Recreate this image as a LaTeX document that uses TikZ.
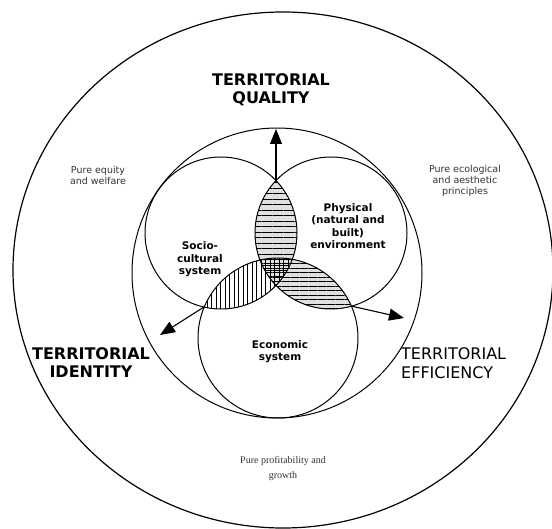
\documentclass[tikz,border=0pt]{standalone}
\usepackage{fontspec}
\setmainfont{DejaVu Sans}
\newfontfamily\noteserif{Liberation Serif}
\usetikzlibrary{patterns.meta,arrows.meta}
\begin{document}
\begin{tikzpicture}[x=1pt,y=-1pt,
  ring/.style={draw=black,line width=1pt},
  outerring/.style={draw=black,line width=1.2pt},
  flow/.style={draw=black,line width=1.1pt,-{Triangle[length=15pt,width=12pt]}},
  heading/.style={font=\fontsize{16}{18}\selectfont\bfseries,align=center,inner sep=0pt},
  plainhead/.style={font=\fontsize{16}{19}\selectfont,align=left,inner sep=0pt},
  sysname/.style={font=\fontsize{10.5}{12.5}\selectfont\bfseries,align=center,inner sep=0pt},
  note/.style={font=\fontsize{9.5}{11}\selectfont,text=black!80,align=center,inner sep=0pt},
  serifnote/.style={font=\noteserif\fontsize{10}{15}\selectfont,text=black!80,align=center,inner sep=0pt},
  shade/.style={fill=black!12},
  hlines/.style={pattern={Lines[angle=0,distance=5.5pt,line width=0.7pt]}},
  vlines/.style={pattern={Lines[angle=90,distance=4.5pt,line width=0.7pt]}},
  hlinesdense/.style={pattern={Lines[angle=0,distance=4.5pt,line width=0.7pt]}}
]
\useasboundingbox (0,0) rectangle (552,529);
\fill[white] (0,0) rectangle (552,529);

% centres of the rings and of the three systems
\coordinate (cO) at (283,270);
\coordinate (cM) at (277,273);
\coordinate (cS) at (221,233);
\coordinate (cP) at (331,233);
\coordinate (cE) at (278,338);

% crossing points of the system circles, and the arrow tips
\coordinate (spTop) at (276,180.6);
\coordinate (seOut) at (204,307);
\coordinate (peOut) at (351,306);
\coordinate (qTip) at (276,129);
\coordinate (iTip) at (160,335);
\coordinate (eTip) at (404,318);

% grey ground of two overlaps
\begin{scope}
  \clip (cS) circle[radius=76pt];
  \path[shade] (cP) circle[radius=76pt];
\end{scope}
\begin{scope}
  \clip (cP) circle[radius=76pt];
  \path[shade] (cE) circle[radius=80pt];
\end{scope}

% hatching of the overlaps
\begin{scope}
  \clip (cS) circle[radius=76pt];
  \path[hlines] (cP) circle[radius=76pt];
\end{scope}
\begin{scope}
  \clip (cS) circle[radius=76pt];
  \path[vlines] (cE) circle[radius=80pt];
\end{scope}
\begin{scope}
  \clip (cP) circle[radius=76pt];
  \path[hlinesdense] (cE) circle[radius=80pt];
\end{scope}

% rings
\draw[outerring] (cO) ellipse[x radius=270pt,y radius=258pt];
\draw[ring] (cM) circle[radius=145pt];
\draw[ring] (cS) circle[radius=76pt];
\draw[ring] (cP) circle[radius=76pt];
\draw[ring] (cE) circle[radius=80pt];

% headings
\node[heading] (quality) at (271,90) {TERRITORIAL\\QUALITY};
\node[heading] (identity) at (91,362.5) {TERRITORIAL\\IDENTITY};
\node[plainhead,anchor=west] (efficiency) at (401,363.5) {TERRITORIAL\\EFFICIENCY};

% principles in the outer ring
\node[note] (equity) at (98,175.5) {Pure equity\\and welfare};
\node[note] (ecology) at (465,181) {Pure ecological\\and aesthetic\\principles};
\node[serifnote] (profit) at (283,468.5) {Pure profitability and\\growth};

% the three systems
\node[sysname] (socio) at (200,259.5) {Socio-\\cultural\\system};
\node[sysname] (physical) at (348,226) {Physical\\(natural and\\built)\\environment};
\node[sysname] (economic) at (280,351.5) {Economic\\system};

% arrows
\draw[flow] (spTop) -- (qTip);
\draw[flow] (seOut) -- (iTip);
\draw[flow] (peOut) -- (eTip);
\end{tikzpicture}
\end{document}
